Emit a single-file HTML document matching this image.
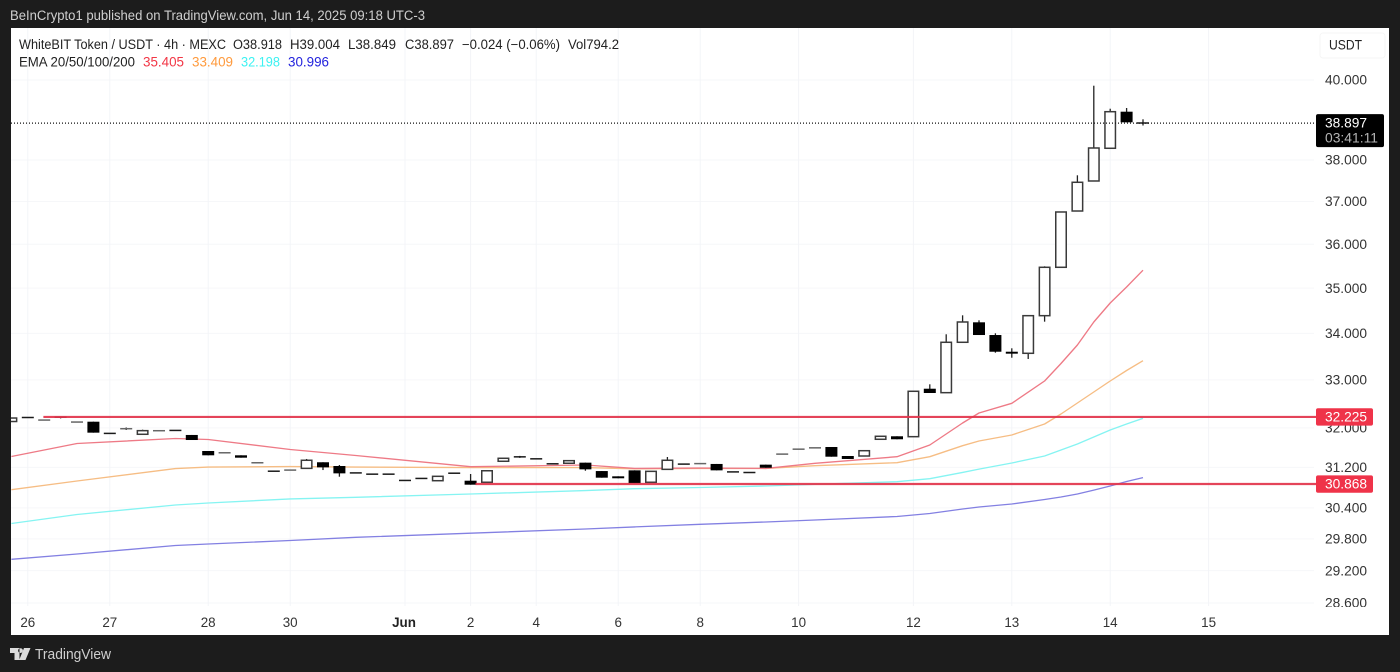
<!DOCTYPE html>
<html lang="en">
<head>
<meta charset="utf-8">
<title>WhiteBIT Token / USDT chart</title>
<style>
html,body{margin:0;padding:0;width:1400px;height:672px;overflow:hidden;background:#1c1c1c}
svg{display:block;font-family:"Liberation Sans",Arial,sans-serif}
</style>
</head>
<body>
<svg id="chart" xmlns="http://www.w3.org/2000/svg" width="1400" height="672" viewBox="0 0 1400 672">
  <defs>
    <clipPath id="plot-clip"><rect x="11" y="28" width="1303" height="575"/></clipPath>
  </defs>
  <rect x="0" y="0" width="1400" height="672" fill="#1c1c1c"/>
  <text x="10" y="20" font-size="13.4" fill="#cfcfcf" textLength="415" lengthAdjust="spacingAndGlyphs">BeInCrypto1 published on TradingView.com, Jun 14, 2025 09:18 UTC-3</text>
  <rect x="11" y="28" width="1378" height="607" fill="#ffffff"/>
  <g id="grid"></g>
  <g id="emas" clip-path="url(#plot-clip)"></g>
  <g id="candles" clip-path="url(#plot-clip)"></g>
  <g id="levels"></g>
  <g id="yaxis"></g>
  <rect x="1316" y="607" width="73" height="28" fill="#ffffff"/>
  <g id="xaxis"></g>
  <g id="tags"></g>

  <g font-size="13.4" fill="#222222">
    <text x="19" y="49" textLength="207" lengthAdjust="spacingAndGlyphs">WhiteBIT Token / USDT · 4h · MEXC</text>
    <text x="233" y="49" textLength="49" lengthAdjust="spacingAndGlyphs">O38.918</text>
    <text x="290" y="49" textLength="50" lengthAdjust="spacingAndGlyphs">H39.004</text>
    <text x="348" y="49" textLength="48" lengthAdjust="spacingAndGlyphs">L38.849</text>
    <text x="405" y="49" textLength="49" lengthAdjust="spacingAndGlyphs">C38.897</text>
    <text x="462" y="49" textLength="98" lengthAdjust="spacingAndGlyphs">−0.024 (−0.06%)</text>
    <text x="568" y="49" textLength="51" lengthAdjust="spacingAndGlyphs">Vol794.2</text>
    <text x="19" y="66.5" textLength="116" lengthAdjust="spacingAndGlyphs">EMA 20/50/100/200</text>
    <text x="143" y="66.5" fill="#f23645" textLength="41" lengthAdjust="spacingAndGlyphs">35.405</text>
    <text x="192" y="66.5" fill="#ff9a3c" textLength="41" lengthAdjust="spacingAndGlyphs">33.409</text>
    <text x="241" y="66.5" fill="#3cf2f2" textLength="39" lengthAdjust="spacingAndGlyphs">32.198</text>
    <text x="288" y="66.5" fill="#2222dd" textLength="41" lengthAdjust="spacingAndGlyphs">30.996</text>
  </g>

  <g>
    <rect x="1320" y="33" width="65" height="25" rx="3" fill="#ffffff" stroke="#f6f6f6"/>
    <text x="1329" y="49.5" font-size="13.4" fill="#222222" textLength="33" lengthAdjust="spacingAndGlyphs">USDT</text>
  </g>

  <g>
    <path d="M10 648h9.5v12h-5v-7H10zM20.5 648.2a2.4 2.4 0 1 0 .01 0zM24 648h6.5l-5 12h-6.3z" fill="#dcdcdc"/>
    <text x="35" y="659" font-size="14.5" fill="#cfcfcf" textLength="76" lengthAdjust="spacingAndGlyphs">TradingView</text>
  </g>
</svg>

<script>
const priceTicks = [40, 38, 37, 36, 35, 34, 33, 32, 31.2, 30.4, 29.8, 29.2, 28.6];
const timeTickBars = [1, 6, 12, 17, 24, 28, 32, 37, 42, 48, 55, 61, 67, 73];
const timeTickLabels = ["26", "27", "28", "30", "Jun", "2", "4", "6", "8", "10", "12", "13", "14", "15"];

const opens = [32.131,32.219,32.160,32.224,32.119,32.127,31.892,31.982,31.869,31.941,
  31.953,31.855,31.529,31.493,31.442,31.292,31.128,31.144,31.180,31.302,
  31.227,31.094,31.069,31.069,30.944,30.984,30.934,31.088,30.934,30.903,
  31.322,31.416,31.376,31.276,31.282,31.294,31.126,31.021,31.140,30.903,
  31.160,31.270,31.274,31.268,31.114,31.102,31.254,31.467,31.567,31.594,
  31.610,31.428,31.428,31.767,31.828,31.820,32.814,32.731,33.806,34.242,
  33.964,33.602,33.568,34.388,35.472,36.776,37.491,38.286,39.195,38.918];
const highs = [32.203,32.219,32.166,32.224,32.125,32.127,31.892,32.008,31.963,31.947,
  31.953,31.855,31.529,31.498,31.442,31.297,31.128,31.150,31.368,31.302,
  31.247,31.094,31.069,31.069,30.944,30.984,31.021,31.088,31.067,31.132,
  31.382,31.430,31.376,31.276,31.334,31.294,31.126,31.021,31.140,31.120,
  31.408,31.270,31.280,31.268,31.114,31.102,31.254,31.471,31.571,31.598,
  31.610,31.428,31.535,31.828,31.828,32.760,32.907,33.980,34.396,34.286,
  34.002,33.676,34.388,35.495,36.753,37.628,39.854,39.270,39.288,39.004];
const lows = [32.131,32.214,32.160,32.196,32.119,31.902,31.886,31.957,31.869,31.941,
  31.948,31.752,31.442,31.493,31.394,31.292,31.122,31.144,31.180,31.146,
  31.013,31.090,31.065,31.065,30.940,30.980,30.934,31.084,30.855,30.903,
  31.322,31.390,31.372,31.272,31.282,31.132,30.994,30.982,30.883,30.903,
  31.160,31.266,31.274,31.140,31.110,31.098,31.192,31.467,31.567,31.594,
  31.414,31.368,31.428,31.767,31.767,31.820,32.724,32.731,33.806,33.964,
  33.581,33.473,33.446,34.256,35.472,36.776,37.491,38.286,38.929,38.849];
const closes = [32.203,32.214,32.166,32.196,32.125,31.902,31.886,31.988,31.943,31.947,
  31.948,31.752,31.442,31.498,31.394,31.297,31.122,31.150,31.342,31.200,
  31.080,31.090,31.065,31.065,30.940,30.980,31.021,31.084,30.855,31.132,
  31.382,31.412,31.372,31.272,31.334,31.160,30.994,30.982,30.883,31.120,
  31.342,31.266,31.280,31.140,31.110,31.098,31.192,31.471,31.571,31.598,
  31.414,31.368,31.535,31.828,31.767,32.760,32.724,33.806,34.249,33.964,
  33.602,33.560,34.388,35.472,36.753,37.460,38.293,39.195,38.929,38.897];

const emaBars = [0,4,10,12,17,21,28,35,38,42,46,49,54,56,58,59,61,63,64,65,66,67,68,69];
const ema20 = [31.418,31.681,31.783,31.762,31.559,31.438,31.213,31.247,31.180,31.186,31.180,31.282,31.414,31.650,32.100,32.306,32.509,32.977,33.349,33.747,34.249,34.669,35.026,35.405];
const ema50 = [30.755,30.928,31.176,31.206,31.216,31.206,31.196,31.196,31.172,31.180,31.180,31.233,31.294,31.414,31.636,31.732,31.855,32.080,32.286,32.515,32.745,32.977,33.200,33.409];
const ema100 = [30.097,30.270,30.456,30.495,30.574,30.607,30.671,30.739,30.775,30.799,30.829,30.862,30.914,30.974,31.100,31.166,31.288,31.428,31.549,31.671,31.813,31.957,32.080,32.198];
const ema200 = [29.413,29.514,29.675,29.704,29.770,29.832,29.909,29.991,30.030,30.081,30.126,30.164,30.232,30.290,30.378,30.417,30.476,30.564,30.613,30.671,30.749,30.829,30.918,30.996];

const levelPrices = [32.225, 30.868];
const levelStartBars = [1.95, 28.3];
const lastPrice = 38.897;
const countdown = "03:41:11";

const SVGNS = "http://www.w3.org/2000/svg";
function xAt(bar) { return 11.4 + bar * 16.4; }
function yAt(price) { return 80 + Math.log(40 / price) * 1559; }
function make(parent, tag, attrs) {
  const el = document.createElementNS(SVGNS, tag);
  for (const k in attrs) el.setAttribute(k, attrs[k]);
  parent.appendChild(el);
  return el;
}
const grid = document.getElementById("grid");
const yaxis = document.getElementById("yaxis");
const xaxis = document.getElementById("xaxis");
const emas = document.getElementById("emas");
const candles = document.getElementById("candles");
const levels = document.getElementById("levels");
const tags = document.getElementById("tags");

priceTicks.forEach(function (p) {
  const line = make(grid, "line", {x1: 11, x2: 1314, y1: yAt(p), y2: yAt(p), stroke: "#f6f7f9", "stroke-width": 1});
  
  
  const label = make(yaxis, "text", {x: 1325, y: yAt(p) + 4.7, "font-size": 13.4, fill: "#333333", textLength: 42, lengthAdjust: "spacingAndGlyphs"});
  label.textContent = p.toFixed(3);
  
  
});

timeTickBars.forEach(function (b, i) {
  const line = make(grid, "line", {x1: xAt(b), x2: xAt(b), y1: 28, y2: 606, stroke: "#f3f4f8", "stroke-width": 1});
  
  
  const isMonth = timeTickLabels[i] === "Jun";
  const label = make(xaxis, "text", {x: xAt(b) - (isMonth ? 1 : 0), y: 627, "font-size": 13.4, "text-anchor": "middle", fill: isMonth ? "#222222" : "#333333", "font-weight": isMonth ? "bold" : "normal"});
  label.textContent = timeTickLabels[i];
  
  
});

function drawEma(values, color, name) {
  const pts = values.map(function (v, i) { return xAt(emaBars[i]).toFixed(1) + "," + yAt(v).toFixed(1); }).join(" ");
  const line = make(emas, "polyline", {points: pts, fill: "none", stroke: color, "stroke-width": 1.35, "stroke-linejoin": "round"});
  
  
}
drawEma(ema200, "#8380e2", "ema-200-line");
drawEma(ema100, "#86f4f2", "ema-100-line");
drawEma(ema50, "#f6bd84", "ema-50-line");
drawEma(ema20, "#ee7a86", "ema-20-line");

opens.forEach(function (o, i) {
  const c = closes[i], up = c >= o, x = xAt(i);
  const top = yAt(Math.max(o, c)), bot = yAt(Math.min(o, c));
  const g = make(candles, "g", {});
  
  
  const wick = make(g, "line", {x1: x, x2: x, y1: yAt(highs[i]), y2: yAt(lows[i]), stroke: "#222222", "stroke-width": 1.3});
  
  
  let body;
  if (bot - top < 1.4) {
    body = make(g, "rect", {x: x - 6, y: top - 0.5, width: 12, height: 1.5, fill: up ? "#666666" : "#1a1a1a"});
  } else if (up) {
    body = make(g, "rect", {x: x - 5.25, y: top, width: 10.5, height: bot - top, fill: "#ffffff", stroke: "#3a3a3a", "stroke-width": 1.5});
  } else {
    body = make(g, "rect", {x: x - 6, y: top, width: 12, height: bot - top, fill: "#000000"});
  }
  
  
});

const lastLine = make(levels, "line", {x1: 11, x2: 1314, y1: yAt(lastPrice) - 0.5, y2: yAt(lastPrice) - 0.5, stroke: "#111111", "stroke-width": 1.2, "stroke-dasharray": "1 2"});



levelPrices.forEach(function (p, i) {
  const line = make(levels, "line", {x1: xAt(levelStartBars[i]), x2: 1316, y1: yAt(p), y2: yAt(p), stroke: "#e2354c", "stroke-width": 2.2, opacity: 0.92});
  
  
  const box = make(tags, "rect", {x: 1316, y: yAt(p) - 8.7, width: 57, height: 17.4, rx: 2, fill: "#ef3349"});
  
  
  const t = make(tags, "text", {x: 1325, y: yAt(p) + 4.7, "font-size": 13.4, fill: "#ffffff", textLength: 42, lengthAdjust: "spacingAndGlyphs"});
  t.textContent = p.toFixed(3);
  
  
});

const lastBox = make(tags, "rect", {x: 1316, y: yAt(lastPrice) - 9.5, width: 68, height: 33, rx: 2, fill: "#000000"});


const lastText = make(tags, "text", {x: 1325, y: yAt(lastPrice) + 4, "font-size": 13.4, fill: "#ffffff", textLength: 42, lengthAdjust: "spacingAndGlyphs"});
lastText.textContent = lastPrice.toFixed(3);


const cdText = make(tags, "text", {x: 1325, y: yAt(lastPrice) + 19, "font-size": 13.4, fill: "#b4b4b4", textLength: 53, lengthAdjust: "spacingAndGlyphs"});
cdText.textContent = countdown;


</script>
</body>
</html>
